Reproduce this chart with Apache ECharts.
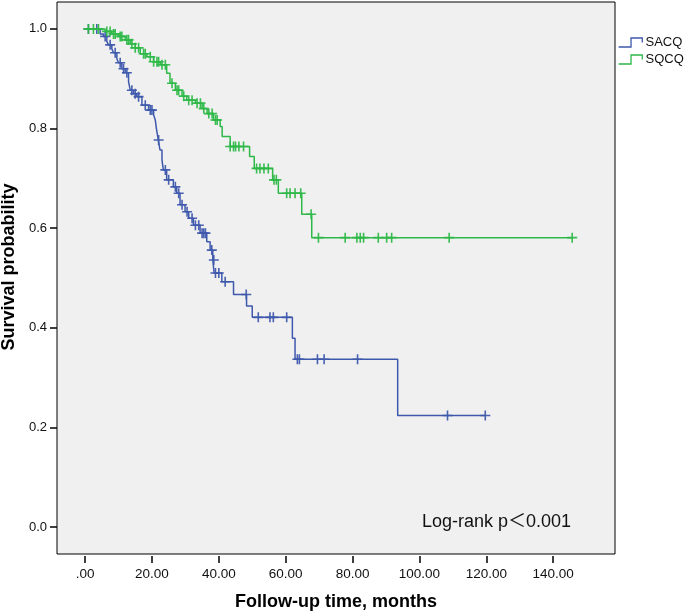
<!DOCTYPE html>
<html>
<head>
<meta charset="utf-8">
<script src="https://cdn.jsdelivr.net/npm/echarts@6/dist/echarts.min.js"></script>
<style>html,body{margin:0;padding:0;background:#fff}#c{width:685px;height:614px}</style>
</head>
<body>
<div id="c"></div>
<script>
// ---- data ----
const seriesNames = ['SACQ', 'SQCQ'];
const xTicks = [0, 20, 40, 60, 80, 100, 120, 140];
const yTicks = [0, 0.2, 0.4, 0.6, 0.8, 1.0];

// SACQ step function: time at which survival changes, and survival from then on
const sacqTimes = [0, 4.5, 5.5, 6.5, 7, 8, 8.5, 9.5, 10, 11, 12, 13, 13.5, 14.5, 15.5, 17, 19, 20.5, 21, 21.4, 21.9, 22.4, 23, 23.4, 24.4, 26.4, 27.4, 28.4, 29.9, 31, 32.4, 34.4, 36.4, 37.4, 38.2, 38.6, 40.9, 44.4, 48.3, 50, 62, 62.8, 93.5];
const sacqSurv  = [1.0, 0.99, 0.985, 0.975, 0.968, 0.96, 0.952, 0.94, 0.932, 0.92, 0.912, 0.894, 0.877, 0.87, 0.864, 0.847, 0.837, 0.827, 0.817, 0.797, 0.777, 0.757, 0.737, 0.717, 0.697, 0.683, 0.67, 0.647, 0.633, 0.62, 0.606, 0.59, 0.573, 0.556, 0.536, 0.51, 0.4925, 0.467, 0.444, 0.421, 0.379, 0.337, 0.224];
const sacqEnd = 119.7;
const sacqCensor = [1, 3.5, 6, 7.5, 9, 10.5, 11.5, 12.5, 14, 15, 16, 18, 19.5, 20, 22, 24, 25, 27, 28, 29, 30.5, 32, 33, 34, 35, 35.5, 36, 37.9, 38.5, 39, 40, 41.9, 48.2, 51.8, 55.3, 56.3, 60.3, 63.5, 64.1, 69.5, 71.5, 81.5, 108.4, 119.7];

// SQCQ step function
const sqcqTimes = [0, 6, 8, 10, 12, 13.5, 15, 16.5, 18.5, 20.5, 22.5, 24.4, 25.4, 27, 29, 30.4, 33, 35, 36.5, 38.4, 40.4, 41, 43.4, 49.2, 50.6, 56.1, 57.8, 64.8, 67.8];
const sqcqSurv  = [1.0, 0.995, 0.99, 0.985, 0.978, 0.97, 0.962, 0.95, 0.944, 0.934, 0.928, 0.911, 0.891, 0.877, 0.865, 0.857, 0.851, 0.84, 0.83, 0.817, 0.804, 0.784, 0.764, 0.744, 0.72, 0.697, 0.67, 0.628, 0.581];
const sqcqEnd = 145.7;
const sqcqCensor = [1, 2.5, 4, 6.5, 7.5, 8.5, 9, 10.5, 11, 12.5, 13, 14, 15, 16, 17.5, 18, 19.5, 20.5, 21.5, 22, 23, 24, 26, 27.5, 28, 29.5, 31, 32, 33.5, 34.5, 35.5, 37, 38, 39, 39.5, 43.4, 44.4, 45, 46, 47.4, 51.3, 52.3, 53.5, 54.8, 56.5, 57.2, 60.3, 61.3, 62.8, 64.5, 67.6, 69.8, 77.8, 81.3, 82.3, 83.3, 87.7, 90.2, 91.7, 108.9, 145.7];

// ---- helpers ----
function stepData(times, surv, end) {
  const d = times.map((t, i) => [t, surv[i]]);
  d.push([end, surv[surv.length - 1]]);
  return d;
}
function survAt(times, surv, t) {
  let s = surv[0];
  for (let i = 0; i < times.length; i++) { if (times[i] <= t) s = surv[i]; }
  return s;
}
function censorData(times, surv, cens) {
  return cens.map(t => [t, survAt(times, surv, t)]);
}

const BLUE = '#3E58AC', GREEN = '#2EB848';
const PLUS = 'path://M4.2,0H5.8V4.2H10V5.8H5.8V10H4.2V5.8H0V4.2H4.2Z';
const LEG = 'path://M0,9H11V1H21V5';
const FONT = 'Liberation Sans, Arial, sans-serif';

const chart = echarts.init(document.getElementById('c'), null, {renderer: 'canvas'});
chart.setOption({
  backgroundColor: '#ffffff',
  animation: false,
  title: {
    text: 'Log-rank p\uFF1C0.001',
    left: 417, top: 508,
    textStyle: {fontFamily: FONT + ', Noto Sans CJK SC', fontSize: 18, fontWeight: 'normal', color: '#111'}
  },
  legend: {
    orient: 'vertical', left: 618, top: 36, padding: 0,
    itemWidth: 24, itemHeight: 9, itemGap: 4,
    textStyle: {fontFamily: FONT, fontSize: 13, color: '#111', padding: [0, 0, 0, -2]},
    data: [
      {name: seriesNames[0], icon: LEG, itemStyle: {color: 'rgba(0,0,0,0)', borderColor: BLUE, borderWidth: 1.3}},
      {name: seriesNames[1], icon: LEG, itemStyle: {color: 'rgba(0,0,0,0)', borderColor: GREEN, borderWidth: 1.3}}
    ]
  },
  grid: {
    left: 57, top: 2, width: 558, height: 552,
    containLabel: false, outerBoundsMode: 'none',
    show: true, backgroundColor: '#f0f0f0', borderColor: '#000', borderWidth: 1
  },
  xAxis: {
    type: 'value', min: -8.4, max: 158.5,
    name: 'Follow-up time, months', nameLocation: 'middle', nameGap: 37,
    nameTextStyle: {fontFamily: FONT, fontSize: 18, fontWeight: 'bold', color: '#000'},
    axisLine: {show: false, onZero: false},
    splitLine: {show: false},
    offset: 2,
    axisTick: {show: true, length: 7, customValues: xTicks, lineStyle: {color: '#000', width: 1.5}},
    axisLabel: {customValues: xTicks, margin: 11, fontFamily: FONT, fontSize: 13.5, color: '#111',
      formatter: v => (v === 0 ? '.00' : v.toFixed(2))}
  },
  yAxis: {
    type: 'value', min: -0.054, max: 1.054,
    name: 'Survival probability', nameLocation: 'middle', nameGap: 39,
    nameTextStyle: {fontFamily: FONT, fontSize: 18, fontWeight: 'bold', color: '#000', padding: [0, 0, 0, 22]},
    axisLine: {show: false, onZero: false},
    splitLine: {show: false},
    axisTick: {show: true, length: 7, customValues: yTicks, lineStyle: {color: '#000', width: 1.5}},
    axisLabel: {customValues: yTicks, margin: 10, fontFamily: FONT, fontSize: 13, color: '#111',
      formatter: v => v.toFixed(1)}
  },
  series: [
    {name: seriesNames[0], type: 'line', step: 'end', showSymbol: false, symbol: 'none',
      data: stepData(sacqTimes, sacqSurv, sacqEnd), lineStyle: {color: BLUE, width: 1.5}, itemStyle: {color: BLUE}, z: 2},
    {name: seriesNames[1], type: 'line', step: 'end', showSymbol: false, symbol: 'none',
      data: stepData(sqcqTimes, sqcqSurv, sqcqEnd), lineStyle: {color: GREEN, width: 1.5}, itemStyle: {color: GREEN}, z: 3},
    {name: seriesNames[0], type: 'scatter', symbol: PLUS, symbolSize: 10,
      data: censorData(sacqTimes, sacqSurv, sacqCensor), itemStyle: {color: BLUE, opacity: 0.95}, z: 2},
    {name: seriesNames[1], type: 'scatter', symbol: PLUS, symbolSize: 10,
      data: censorData(sqcqTimes, sqcqSurv, sqcqCensor), itemStyle: {color: GREEN, opacity: 0.95}, z: 3}
  ]
});
</script>
</body>
</html>
